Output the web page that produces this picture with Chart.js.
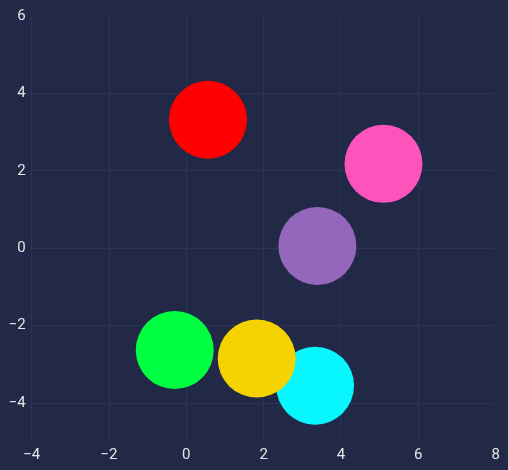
<!DOCTYPE html>
<html>
<head>
<meta charset="utf-8">
<script src="https://cdn.jsdelivr.net/npm/chart.js@4/dist/chart.umd.min.js"></script>
<style>
    html, body { margin: 0; padding: 0; background: #212946; }
    #wrap { width: 508px; height: 470px; }
</style>
</head>
<body>
<div id="wrap"><canvas id="bubbleChart"></canvas></div>
<script>
// Bubble positions
const xValues = [0.56, 5.10, 3.39, -0.30, 3.33, 1.82];
const yValues = [3.32, 2.18, 0.06, -2.63, -3.55, -2.85];
const xTicks = [-4, -2, 0, 2, 4, 6, 8];
const yTicks = [-4, -2, 0, 2, 4, 6];

const pointColors = ['#ff0000', '#fe53bb', '#9467bd', '#00ff41', '#08f7fe', '#f5d300'];
const gridColor = '#2a3459';
const textColor = '#e6e6e6';

/**
 * Formats a tick value with a real minus sign.
 */
function formatTick(value) {
    return value < 0 ? '\u2212' + Math.abs(value) : String(value);
}

const points = xValues.map((x, i) => ({ x: x, y: yValues[i] }));

const ctx = document.getElementById('bubbleChart').getContext('2d');
new Chart(ctx, {
    type: 'bubble',
    data: {
        datasets: [{
            data: points,
            radius: 39,
            backgroundColor: pointColors,
            borderWidth: 0,
            hoverRadius: 0
        }]
    },
    options: {
        responsive: true,
        maintainAspectRatio: false,
        animation: false,
        events: [],
        layout: { autoPadding: false, padding: { top: 16, right: 12.4, left: 0, bottom: 0 } },
        plugins: {
            legend: { display: false },
            tooltip: { enabled: false }
        },
        scales: {
            x: {
                type: 'linear',
                min: -4,
                max: 8,
                afterBuildTicks: (axis) => { axis.ticks = xTicks.map(v => ({ value: v })); },
                afterFit: (axis) => { axis.height = 28.2; },
                border: { display: false },
                grid: {
                    color: (c) => c.tick && c.tick.value === 8 ? 'rgba(0,0,0,0)' : gridColor,
                    drawTicks: false
                },
                ticks: {
                    color: textColor,
                    padding: 4,
                    font: { family: 'Roboto', size: 15 },
                    callback: formatTick
                }
            },
            y: {
                type: 'linear',
                min: -5,
                max: 6,
                afterBuildTicks: (axis) => { axis.ticks = yTicks.map(v => ({ value: v })); },
                afterFit: (axis) => { axis.width = 31.7; },
                border: { display: false },
                grid: {
                    color: (c) => c.tick && c.tick.value === 6 ? 'rgba(0,0,0,0)' : gridColor,
                    drawTicks: false
                },
                ticks: {
                    color: textColor,
                    padding: 6,
                    font: { family: 'Roboto', size: 15 },
                    callback: formatTick
                }
            }
        }
    }
});
</script>
</body>
</html>
